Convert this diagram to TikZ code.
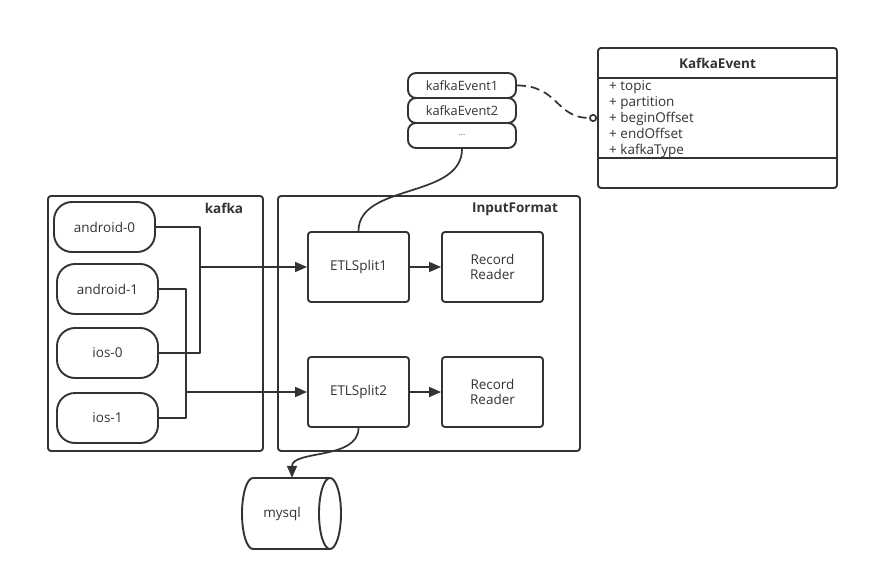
\documentclass[tikz,border=0pt]{standalone}
\usepackage{fontspec}
\setmainfont{Open Sans}
\usetikzlibrary{arrows.meta}
\definecolor{ln}{HTML}{333333}
\definecolor{txt}{HTML}{333333}
\begin{document}
\begin{tikzpicture}[x=1pt,y=-1pt,line join=round,
  every node/.style={font=\fontsize{13.5}{16}\selectfont,text=txt},
  box/.style={draw=ln,line width=1.9pt,rounded corners=3pt,inner sep=0pt},
  pill/.style={draw=ln,line width=1.9pt,rounded corners=18pt,minimum width=101pt,minimum height=50pt,inner sep=0pt},
  evbox/.style={draw=ln,line width=1.9pt,rounded corners=8pt,minimum width=108pt,minimum height=25pt,inner sep=0pt,font=\fontsize{12.8}{14}\selectfont},
  inner/.style={box,minimum width=101pt,minimum height=70pt,align=center,font=\fontsize{13.5}{16}\selectfont},
  ttl/.style={font=\bfseries\fontsize{13.5}{16}\selectfont},
  attr/.style={anchor=base west,inner sep=0pt,font=\fontsize{13.5}{15}\selectfont},
  conn/.style={draw=ln,line width=1.7pt},
  arr/.style={conn,-{Triangle[length=12pt,width=10pt]}},
]
\useasboundingbox (0,0) rectangle (869,580);
\fill[white] (0,0) rectangle (869,580);

% containers
\node[box,minimum width=215pt,minimum height=255pt] (kafka) at (155.5,323.5) {};
\node[ttl] (kafkat) at (224,208) {kafka};
\node[box,minimum width=302pt,minimum height=255pt] (inf) at (429,323.5) {};
\node[ttl] (inft) at (515,209) {InputFormat};

% partitions
\node[pill] (a0) at (104.5,227) {android-0};
\node[pill] (a1) at (107.5,289) {android-1};
\node[pill] (i0) at (107.5,353) {ios-0};
\node[pill] (i1) at (107.5,418) {ios-1};

% splits
\node[inner] (s1) at (358.5,267) {ETLSplit1};
\node[inner] (r1) at (492.5,267) {Record\\[-1pt]Reader};
\node[inner] (s2) at (358.5,392) {ETLSplit2};
\node[inner] (r2) at (492.5,392) {Record\\[-1pt]Reader};

% events
\node[evbox] (e1) at (462,85.5) {kafkaEvent1};
\node[evbox] (e2) at (462,110.5) {kafkaEvent2};
\node[evbox] (e3) at (462,135.5) {\fontsize{8}{9}\selectfont ...};

% class
\node[box,minimum width=239pt,minimum height=140pt] (cls) at (717.5,118) {};
\draw[draw=ln,line width=1.9pt] (cls.west |- 0,78) -- (cls.east |- 0,78);
\draw[draw=ln,line width=1.9pt] (cls.west |- 0,158) -- (cls.east |- 0,158);
\node[ttl] (clst) at (717.5,63) {KafkaEvent};
\node[attr] (t1) at (609,91) {+ topic};
\node[attr] (t2) at (609,107) {+ partition};
\node[attr] (t3) at (609,123) {+ beginOffset};
\node[attr] (t4) at (609,139) {+ endOffset};
\node[attr] (t5) at (609,155) {+ kafkaType};

% mysql
\node[minimum width=100pt,minimum height=71pt,inner sep=0pt] (db) at (292,513.5) {};
\draw[draw=ln,line width=1.9pt] (330,478) -- (253,478) arc[start angle=90,end angle=270,x radius=11pt,y radius=35.5pt] -- (330,549);
\draw[draw=ln,line width=1.9pt] (330,513.5) ellipse [x radius=11pt,y radius=35.5pt];
\node (dbt) at (282,514) {mysql};

% connectors
\coordinate (j1) at (200,267);
\coordinate (j2) at (186,392);
\draw[conn] (a0.east) -| (j1) |- (i0.east);
\draw[arr] (j1) -- (s1.west);
\draw[conn] (a1.east) -| (j2) |- (i1.east);
\draw[arr] (j2) -- (s2.west);
\draw[arr] (s1.east) -- (r1.west);
\draw[arr] (s2.east) -- (r2.west);
\draw[conn] (s1.north) .. controls +(0,-48) and +(0,50) .. (e3.south);
\draw[arr] (s2.south) .. controls +(0,32) and +(0,-28) .. (db.north);
\draw[conn,dash pattern=on 9pt off 5pt,-{Circle[open,length=8pt,width=8pt]}] (e1.east) .. controls +(42,0) and +(-42,0) .. (cls.west);
\end{tikzpicture}
\end{document}
